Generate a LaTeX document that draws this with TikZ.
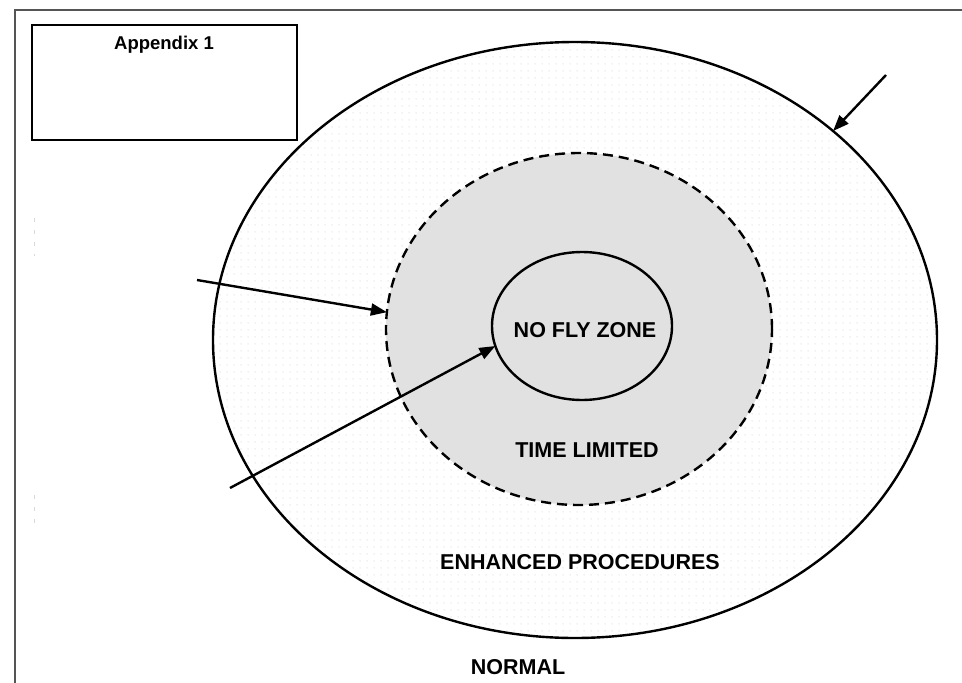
\documentclass[tikz,border=0pt]{standalone}
\usepackage{fontspec}
\setmainfont{Liberation Sans}
\usetikzlibrary{shapes.geometric,arrows.meta,patterns}
\pgfdeclarepatternformonly{zonedots}{\pgfpointorigin}{\pgfpoint{7pt}{7pt}}{\pgfpoint{7pt}{7pt}}{%
  \pgfpathcircle{\pgfpoint{3.5pt}{3.5pt}}{0.6pt}\pgfusepath{fill}}
\definecolor{zonegray}{RGB}{225,225,225}
\definecolor{framegray}{RGB}{85,85,85}
\tikzset{
  zone/.style={ellipse, inner sep=0pt, outer sep=0pt, line width=2.4pt},
  zonelabel/.style={anchor=base, inner sep=0pt, font=\bfseries\fontsize{21.5}{24}\selectfont},
  pointer/.style={line width=2.4pt, -{Triangle[length=16pt,width=12pt]}},
  framestyle/.style={framegray, line width=2pt},
  ghost/.style={gray!30, line width=0.8pt, dash pattern=on 4pt off 8pt}
}
\begin{document}
\begin{tikzpicture}[x=1pt,y=-1pt]
\useasboundingbox (0,0) rectangle (962,683);
% page frame
\coordinate (ftr) at (962,10);
\coordinate (ftl) at (15,10);
\coordinate (fbl) at (15,683);
\draw[framestyle] (ftr) -- (ftl) -- (fbl);
% faint marks
\coordinate (g1a) at (34,218); \coordinate (g1b) at (34,256);
\coordinate (g2a) at (34,495); \coordinate (g2b) at (34,528);
\draw[ghost] (g1a) -- (g1b);
\draw[ghost] (g2a) -- (g2b);
% appendix box
\node[draw, line width=1.6pt, minimum width=265pt, minimum height=115pt, inner sep=0pt, outer sep=0pt] (appbox) at (164.5,82.5) {};
\node[anchor=base, inner sep=0pt, font=\bfseries\fontsize{18.5}{22}\selectfont] (apptext) at (164,49) {Appendix 1};
% zones
\node[zone, draw, pattern=zonedots, pattern color=gray!45, minimum width=724pt, minimum height=596pt] (outer) at (575,340) {};
\node[zone, draw, dashed, dash pattern=on 10pt off 6pt, fill=zonegray, minimum width=386pt, minimum height=352pt] (middle) at (579,329) {};
\node[zone, draw, fill=zonegray, minimum width=180pt, minimum height=148pt] (inner) at (582,326) {};
% labels
\node[zonelabel] (nofly) at (585,337) {NO FLY ZONE};
\node[zonelabel] (timelim) at (587,457) {TIME LIMITED};
\node[zonelabel] (enhanced) at (580,569) {ENHANCED PROCEDURES};
\node[zonelabel] (normal) at (518,674) {NORMAL};
% pointers
\coordinate (p1) at (886,75);
\coordinate (p2) at (197,280);
\coordinate (p3) at (230,488);
\draw[pointer] (p1) -- (outer.39.7);
\draw[pointer] (p2) -- (middle.175.3);
\draw[pointer] (p3) -- (inner.193);
\end{tikzpicture}
\end{document}
